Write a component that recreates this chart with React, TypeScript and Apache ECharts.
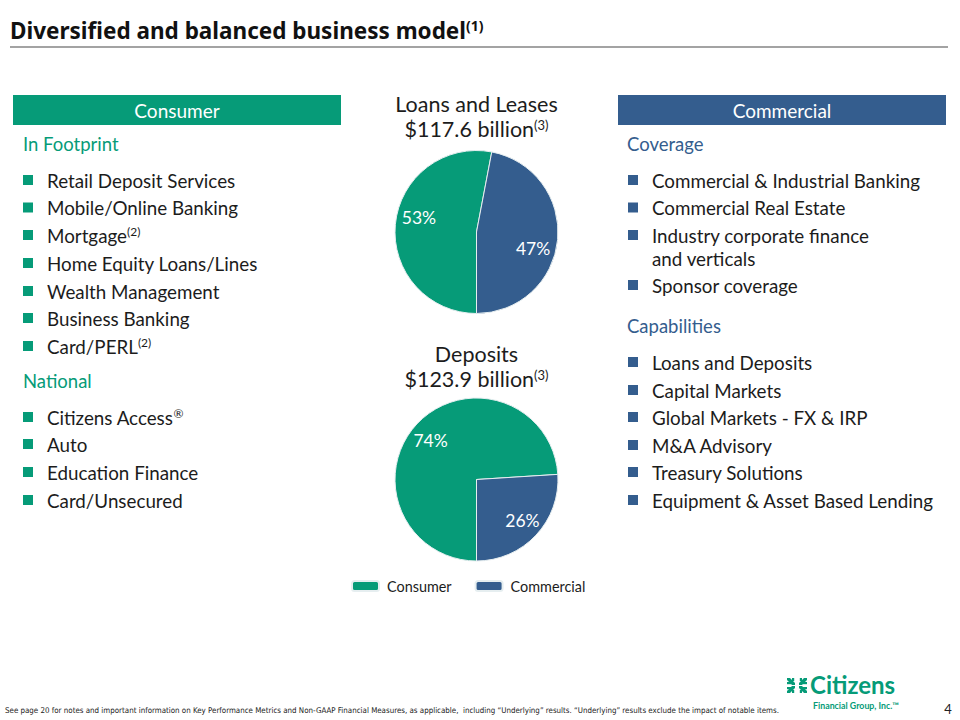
import React, { useEffect, useRef } from "react";
import * as echarts from "echarts";

const pieCategories = ["Consumer", "Commercial"];
const loansShare = [53, 47];
const depositsShare = [74, 26];
const loansTitle = ["Loans and Leases", "$117.6 billion"];
const depositsTitle = ["Deposits", "$123.9 billion"];

const consumerHeader = "Consumer";
const commercialHeader = "Commercial";
const inFootprintItems = [
  "Retail Deposit Services",
  "Mobile/Online Banking",
  "Mortgage{sup|(2)}",
  "Home Equity Loans/Lines",
  "Wealth Management",
  "Business Banking",
  "Card/PERL{sup|(2)}",
];
const nationalItems = ["Citizens Access{sup|®}", "Auto", "Education Finance", "Card/Unsecured"];
const coverageItems = [
  "Commercial & Industrial Banking",
  "Commercial Real Estate",
  "Industry corporate finance\nand verticals",
  "Sponsor coverage",
];
const capabilityItems = [
  "Loans and Deposits",
  "Capital Markets",
  "Global Markets - FX & IRP",
  "M&A Advisory",
  "Treasury Solutions",
  "Equipment & Asset Based Lending",
];

const GREEN = "#069b78";
const BLUE = "#345d8e";
const TEXT = "#1c1c1c";
const FONT = "Lato, 'Noto Sans', sans-serif";
const TITLE_FONT = "'Noto Sans', Lato, sans-serif";

const loansLabelOffsets = [[-14, -10], [13, 12]];
const depositsLabelOffsets = [[-14, -9], [14, 11]];

const supStyle = (size: number, bold: boolean, color: string, family: string) => ({
  fontSize: size,
  fontFamily: family,
  fontWeight: bold ? "bold" : "normal",
  fill: color,
  verticalAlign: "top",
});

function textEl(x: number, y: number, text: string, size: number, color: string, opts: any = {}) {
  const family = opts.fontFamily || FONT;
  return {
    type: "text",
    x,
    y,
    z: 10,
    style: {
      text,
      fontSize: size,
      fontFamily: family,
      fontWeight: opts.bold ? "bold" : "normal",
      fill: color,
      align: opts.align || "left",
      verticalAlign: "middle",
      rich: {
        sup: supStyle(Math.round(size * 0.62), !!opts.bold, color, family),
      },
    },
  };
}

const BODY = 18.8;

function bulletList(items: string[], ys: number[], bx: number, tx: number, color: string) {
  const els: any[] = [];
  items.forEach((it, i) => {
    els.push({
      type: "rect",
      shape: { x: bx, y: ys[i] - 5, width: 10, height: 10 },
      style: { fill: color },
    });
    const parts = it.split("\n");
    parts.forEach((p, j) => {
      els.push(textEl(tx, ys[i] + j * 23, p, BODY, TEXT));
    });
  });
  return els;
}

function pieData(values: number[], offsets: number[][]) {
  return values.map((v, i) => ({
    value: v,
    name: pieCategories[i],
    label: { offset: offsets[i] },
  }));
}

export default function App() {
  const ref = useRef<HTMLDivElement>(null);
  useEffect(() => {
    if (!ref.current) return;
    const chart = echarts.init(ref.current, undefined, { renderer: "svg" });

    const leftYs1 = [180, 207.5, 235, 263, 291, 318, 346];
    const leftYs2 = [417, 444, 472, 500];
    const rightYs1 = [180, 207.5, 235, 285];
    const rightYs2 = [362, 390, 417, 445, 472, 500];

    const graphics: any[] = [
      textEl(10, 30, "Diversified and balanced business model{sup|(1)}", 22.5, "#111", {
        bold: true,
        fontFamily: TITLE_FONT,
      }),
      {
        type: "line",
        shape: { x1: 10, y1: 47, x2: 948, y2: 47 },
        style: { stroke: "#a3a3a3", lineWidth: 2 },
      },
      // Left header
      { type: "rect", shape: { x: 13, y: 95, width: 328, height: 30 }, style: { fill: GREEN } },
      textEl(177, 110.5, consumerHeader, 19, "#ffffff", { align: "center" }),
      textEl(23, 144, "In Footprint", 18.5, GREEN),
      ...bulletList(inFootprintItems, leftYs1, 23, 47, GREEN),
      textEl(23, 381, "National", 18.5, GREEN),
      ...bulletList(nationalItems, leftYs2, 23, 47, GREEN),
      // Right header
      { type: "rect", shape: { x: 618, y: 95, width: 328, height: 30 }, style: { fill: BLUE } },
      textEl(782, 110.5, commercialHeader, 19, "#ffffff", { align: "center" }),
      textEl(627, 144, "Coverage", 18.5, BLUE),
      ...bulletList(coverageItems, rightYs1, 628, 652, BLUE),
      textEl(627, 326, "Capabilities", 18.5, BLUE),
      ...bulletList(capabilityItems, rightYs2, 628, 652, BLUE),
      // Pie titles
      textEl(476.5, 104, loansTitle[0], 21.5, TEXT, { align: "center" }),
      textEl(476.5, 129, loansTitle[1] + "{sup|(3)}", 21.5, TEXT, { align: "center" }),
      textEl(476.5, 354, depositsTitle[0], 21.5, TEXT, { align: "center" }),
      textEl(476.5, 379, depositsTitle[1] + "{sup|(3)}", 21.5, TEXT, { align: "center" }),
      // Footer
      textEl(
        5,
        710,
        "See page 20 for notes and important information on Key Performance Metrics and Non-GAAP Financial Measures, as applicable,  including \u201cUnderlying\u201d results. \u201cUnderlying\u201d results exclude the impact of notable items.",
        7.9,
        "#222",
        { fontFamily: "'Liberation Sans Narrow', 'DejaVu Sans Condensed', sans-serif" }
      ),
      textEl(948, 709, "4", 13, "#222", { align: "center" }),
      // Logo
      textEl(810, 684, "Citizens", 24, GREEN, { bold: true }),
      textEl(813, 705, "Financial Group, Inc.\u2122", 8.8, GREEN, { bold: true }),
      {
        type: "group",
        x: 787,
        y: 678,
        children: [
          { type: "polygon", shape: { points: [[0, 0], [3, 0], [8, 5], [8, 7], [5, 7], [0, 2]] }, style: { fill: GREEN } },
          { type: "polygon", shape: { points: [[20, 0], [17, 0], [12, 5], [12, 7], [15, 7], [20, 2]] }, style: { fill: GREEN } },
          { type: "polygon", shape: { points: [[0, 15], [3, 15], [8, 10], [8, 8], [5, 8], [0, 13]] }, style: { fill: GREEN } },
          { type: "polygon", shape: { points: [[20, 15], [17, 15], [12, 10], [12, 8], [15, 8], [20, 13]] }, style: { fill: GREEN } },
          { type: "rect", shape: { x: 0, y: 4, width: 4, height: 2.2 }, style: { fill: GREEN } },
          { type: "rect", shape: { x: 16, y: 4, width: 4, height: 2.2 }, style: { fill: GREEN } },
          { type: "rect", shape: { x: 0, y: 9, width: 4, height: 2.2 }, style: { fill: GREEN } },
          { type: "rect", shape: { x: 16, y: 9, width: 4, height: 2.2 }, style: { fill: GREEN } },
          { type: "rect", shape: { x: 5, y: 0, width: 2.2, height: 3 }, style: { fill: GREEN } },
          { type: "rect", shape: { x: 12.8, y: 0, width: 2.2, height: 3 }, style: { fill: GREEN } },
          { type: "rect", shape: { x: 5, y: 12, width: 2.2, height: 3 }, style: { fill: GREEN } },
          { type: "rect", shape: { x: 12.8, y: 12, width: 2.2, height: 3 }, style: { fill: GREEN } },
        ],
      },
    ];

    const pieCommon = {
      type: "pie",
      radius: 81.5,
      startAngle: 270,
      clockwise: true,
      silent: true,
      itemStyle: { borderColor: "#e6eef0", borderWidth: 1 },
      label: {
        show: true,
        position: "inside",
        formatter: "{c}%",
        color: "#ffffff",
        fontSize: 17.5,
        fontFamily: FONT,
      },
      labelLine: { show: false },
      emphasis: { disabled: true },
    };

    chart.setOption({
      animation: false,
      backgroundColor: "#ffffff",
      color: [GREEN, BLUE],
      legend: {
        data: pieCategories,
        left: 346,
        top: 574,
        icon: "roundRect",
        itemWidth: 27,
        itemHeight: 10,
        itemGap: 23,
        textStyle: { fontSize: 14.4, fontFamily: FONT, color: TEXT, padding: [0, 0, 0, 3] },
        selectedMode: false,
      },
      series: [
        { ...pieCommon, name: "Loans and Leases", center: [476.5, 232], data: pieData(loansShare, loansLabelOffsets) },
        { ...pieCommon, name: "Deposits", center: [476.5, 479.5], data: pieData(depositsShare, depositsLabelOffsets) },
      ],
      graphic: graphics,
    });
    return () => chart.dispose();
  }, []);
  return (
    <div
      ref={ref}
      style={{ position: "absolute", left: 0, top: 0, width: 960, height: 720, background: "#fff" }}
    />
  );
}
